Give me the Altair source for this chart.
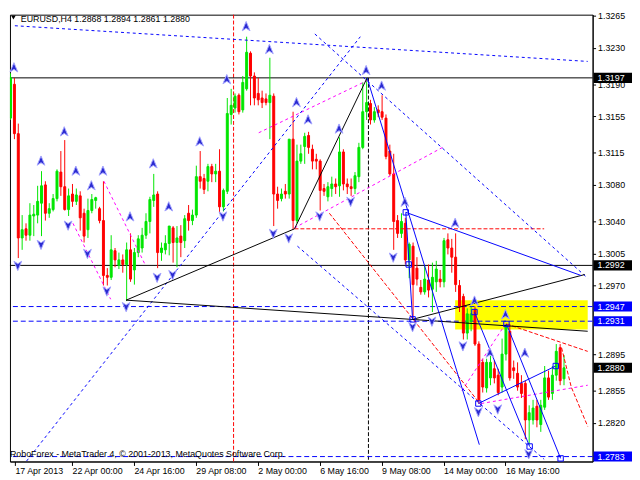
import altair as alt
import pandas as pd

FONT = "Liberation Sans"
GREEN = "#00e600"
RED = "#ff0000"
BLUE = "#0000ff"
MAGENTA = "#ff00ff"

# ---------------- EURUSD H4 candles (bar index 0..143) ----------------
opens = [1.3153, 1.3190, 1.3136, 1.3022, 1.3032, 1.3025, 1.3046, 1.3047, 1.3060, 1.3080,
         1.3049, 1.3053, 1.3065, 1.3094, 1.3078, 1.3053, 1.3070, 1.3062, 1.3068, 1.3049,
         1.3031, 1.3052, 1.3063, 1.3054, 1.3041, 1.2981, 1.2979, 1.3008, 1.2992, 1.2998,
         1.2993, 1.3009, 1.2987, 1.3006, 1.3011, 1.3025, 1.3040, 1.3063, 1.3070, 1.3006,
         1.3009, 1.3016, 1.3033, 1.3017, 1.3024, 1.3019, 1.3049, 1.3041, 1.3047, 1.3089,
         1.3087, 1.3084, 1.3100, 1.3092, 1.3095, 1.3056, 1.3073, 1.3157, 1.3164, 1.3178,
         1.3162, 1.3185, 1.3224, 1.3199, 1.3180, 1.3175, 1.3174, 1.3170, 1.3177, 1.3070,
         1.3065, 1.3073, 1.3070, 1.3130, 1.3041, 1.3106, 1.3122, 1.3134, 1.3119, 1.3108,
         1.3106, 1.3076, 1.3067, 1.3076, 1.3081, 1.3079, 1.3116, 1.3081, 1.3078, 1.3076,
         1.3089, 1.3121, 1.3160, 1.3169, 1.3151, 1.3162, 1.3160, 1.3153, 1.3117, 1.3092,
         1.3041, 1.3027, 1.3038, 1.2998, 1.3013, 1.2989, 1.2968, 1.2963, 1.2976, 1.2966,
         1.2974, 1.2977, 1.2974, 1.3020, 1.3011, 1.3001, 1.2970, 1.2958, 1.2918, 1.2931,
         1.2944, 1.2906, 1.2886, 1.2858, 1.2869, 1.2879, 1.2872, 1.2859, 1.2895, 1.2920,
         1.2880, 1.2874, 1.2863, 1.2863, 1.2823, 1.2823, 1.2838, 1.2818, 1.2837, 1.2869,
         1.2852, 1.2872, 1.2902, 1.2868]
highs = [1.3202, 1.3197, 1.3147, 1.3047, 1.3038, 1.3060, 1.3058, 1.3079, 1.3095, 1.3084,
         1.3060, 1.3070, 1.3097, 1.3117, 1.3129, 1.3076, 1.3081, 1.3076, 1.3073, 1.3054,
         1.3065, 1.3070, 1.3067, 1.3056, 1.3084, 1.2989, 1.3025, 1.3011, 1.3006, 1.3004,
         1.3017, 1.3027, 1.3011, 1.3025, 1.3033, 1.3049, 1.3067, 1.3092, 1.3073, 1.3017,
         1.3025, 1.3035, 1.3035, 1.3035, 1.3036, 1.3047, 1.3058, 1.3053, 1.3101, 1.3117,
         1.3092, 1.3103, 1.3103, 1.3103, 1.3119, 1.3076, 1.3175, 1.3185, 1.3180, 1.3180,
         1.3199, 1.3242, 1.3226, 1.3203, 1.3197, 1.3183, 1.3180, 1.3219, 1.3180, 1.3078,
         1.3076, 1.3081, 1.3130, 1.3160, 1.3124, 1.3124, 1.3137, 1.3138, 1.3124, 1.3114,
         1.3108, 1.3081, 1.3083, 1.3089, 1.3087, 1.3132, 1.3119, 1.3087, 1.3087, 1.3094,
         1.3126, 1.3192, 1.3197, 1.3173, 1.3165, 1.3167, 1.3178, 1.3157, 1.3124, 1.3114,
         1.3047, 1.3049, 1.3044, 1.3017, 1.3017, 1.3001, 1.2976, 1.2992, 1.2993, 1.2995,
         1.2997, 1.2987, 1.3022, 1.3027, 1.3021, 1.3027, 1.2976, 1.2961, 1.2945, 1.2947,
         1.2947, 1.2909, 1.2890, 1.2890, 1.2893, 1.2888, 1.2879, 1.2912, 1.2928, 1.2928,
         1.2888, 1.2886, 1.2872, 1.2866, 1.2839, 1.2845, 1.2845, 1.2845, 1.2882, 1.2877,
         1.2882, 1.2906, 1.2906, 1.2894]
lows = [1.3151, 1.3130, 1.3000, 1.3009, 1.3019, 1.3019, 1.3024, 1.3038, 1.3024, 1.3041,
        1.3044, 1.3051, 1.3062, 1.3068, 1.3052, 1.3046, 1.3056, 1.3058, 1.3030, 1.3017,
        1.3022, 1.3049, 1.3054, 1.3038, 1.2970, 1.2970, 1.2976, 1.2990, 1.2988, 1.2984,
        1.2953, 1.2974, 1.2971, 1.3001, 1.3006, 1.3021, 1.3027, 1.3056, 1.2989, 1.2997,
        1.3004, 1.3003, 1.2995, 1.2990, 1.3001, 1.3011, 1.3030, 1.3036, 1.3044, 1.3076,
        1.3070, 1.3073, 1.3083, 1.3083, 1.3049, 1.3051, 1.3070, 1.3146, 1.3159, 1.3157,
        1.3159, 1.3183, 1.3167, 1.3167, 1.3167, 1.3164, 1.3167, 1.3130, 1.3035, 1.3054,
        1.3062, 1.3065, 1.3065, 1.3031, 1.3038, 1.3103, 1.3103, 1.3114, 1.3097, 1.3097,
        1.3052, 1.3068, 1.3062, 1.3067, 1.3070, 1.3067, 1.3074, 1.3070, 1.3068, 1.3070,
        1.3083, 1.3119, 1.3151, 1.3146, 1.3148, 1.3154, 1.3151, 1.3108, 1.3090, 1.3009,
        1.3022, 1.3022, 1.2993, 1.2978, 1.2934, 1.2970, 1.2960, 1.2960, 1.2957, 1.2941,
        1.2963, 1.2968, 1.2968, 1.3004, 1.2984, 1.2963, 1.2941, 1.2911, 1.2911, 1.2920,
        1.2904, 1.2841, 1.2853, 1.2853, 1.2861, 1.2863, 1.2850, 1.2853, 1.2888, 1.2866,
        1.2868, 1.2855, 1.2847, 1.2802, 1.2796, 1.2818, 1.2815, 1.2810, 1.2834, 1.2845,
        1.2845, 1.2866, 1.2861, 1.2861]
closes = [1.3197, 1.3136, 1.3022, 1.3031, 1.3025, 1.3047, 1.3048, 1.3062, 1.3079, 1.3049,
          1.3054, 1.3065, 1.3095, 1.3078, 1.3053, 1.3068, 1.3062, 1.3069, 1.3044, 1.3024,
          1.3052, 1.3064, 1.3066, 1.3041, 1.2981, 1.2979, 1.3009, 1.2998, 1.2998, 1.2993,
          1.3009, 1.2977, 1.3006, 1.3021, 1.3025, 1.3040, 1.3064, 1.3069, 1.3006, 1.3011,
          1.3016, 1.3035, 1.3017, 1.3022, 1.3017, 1.3043, 1.3041, 1.3047, 1.3089, 1.3084,
          1.3075, 1.3100, 1.3092, 1.3095, 1.3056, 1.3074, 1.3158, 1.3167, 1.3177, 1.3160,
          1.3192, 1.3225, 1.3199, 1.3175, 1.3173, 1.3170, 1.3170, 1.3178, 1.3070, 1.3063,
          1.3070, 1.3070, 1.3130, 1.3041, 1.3106, 1.3114, 1.3133, 1.3121, 1.3106, 1.3106,
          1.3074, 1.3073, 1.3078, 1.3081, 1.3078, 1.3116, 1.3081, 1.3078, 1.3076, 1.3090,
          1.3121, 1.3160, 1.3170, 1.3151, 1.3160, 1.3159, 1.3154, 1.3111, 1.3092, 1.3040,
          1.3027, 1.3040, 1.2998, 1.3015, 1.2971, 1.2977, 1.2963, 1.2977, 1.2965, 1.2979,
          1.2988, 1.2974, 1.3019, 1.3011, 1.3001, 1.2971, 1.2947, 1.2918, 1.2939, 1.2939,
          1.2906, 1.2845, 1.2859, 1.2886, 1.2886, 1.2869, 1.2853, 1.2895, 1.2927, 1.2869,
          1.2877, 1.2859, 1.2852, 1.2823, 1.2831, 1.2836, 1.2823, 1.2839, 1.2869, 1.2848,
          1.2872, 1.2898, 1.2866, 1.2880]

# time axis labels (bar index -> label)
x_tick_pos = [1.25, 16, 32, 48, 64, 80, 96, 112, 128]
x_tick_lab = ["17 Apr 2013", "22 Apr 00:00", "24 Apr 16:00", "29 Apr 08:00", "2 May 00:00",
              "6 May 16:00", "9 May 08:00", "14 May 00:00", "16 May 16:00"]
y_ticks = [1.3265, 1.3230, 1.3190, 1.3155, 1.3115, 1.3080, 1.3040, 1.3005, 1.2970,
           1.2895, 1.2855, 1.2820]

# horizontal levels
solid_levels = [1.3197, 1.2992]
dashed_levels = [1.2947, 1.2931, 1.2783]
box_prices = [1.3197, 1.2992, 1.2947, 1.2931, 1.2880, 1.2783]
box_colors = ["black", "black", BLUE, BLUE, "black", BLUE]

# yellow zone
zone_i = [115.0, 149.25]
zone_p = [1.2954, 1.2922]

# vertical lines (bar index)
red_vline_i = [57.75]
black_vline_i = [92.6]
black_vline_top = [1.3197]

# trend lines: lists of (bar index, price)
black_solid_segs = [
    [(30, 1.2954), (149.25, 1.2920)],
    [(30, 1.2954), (73.5, 1.3032), (92.25, 1.3197)],
    [(104, 1.2933), (148.5, 1.2982)],
]
blue_solid_segs = [
    [(92.25, 1.3197), (121.25, 1.2796)],
    [(102.25, 1.3050), (147.5, 1.2981)],
    [(102.25, 1.3050), (104, 1.2933)],
    [(120, 1.2941), (134.25, 1.2794)],
    [(128.25, 1.2928), (142.25, 1.2781)],
    [(121, 1.2841), (141, 1.2882)],
]
blue_dash_segs = [
    [(1.25, 1.3254), (149.25, 1.3215)],
    [(78.75, 1.3245), (149.25, 1.2978)],
    [(4.25, 1.2778), (90.5, 1.3242)],
    [(74.25, 1.3013), (138, 1.2780)],
]
magenta_segs = [
    [(16.25, 1.3038), (26, 1.2955)],
    [(24.25, 1.3084), (35, 1.2992)],
    [(64.25, 1.3137), (92.25, 1.3194)],
    [(73.5, 1.3033), (111.75, 1.3121)],
    [(116.75, 1.2855), (128, 1.2928)],
    [(121.75, 1.2841), (149.25, 1.2861)],
]
red_dash_segs = [
    [(73.5, 1.3032), (138, 1.3032)],
    [(82.5, 1.3049), (121.75, 1.2839)],
    [(128.25, 1.2928), (149.25, 1.2898)],
    [(142.5, 1.2902), (145, 1.2859), (149.25, 1.2816)],
]

# small square anchors
sq_i = [102.25, 103, 104, 120, 128.25, 121, 141, 134.25, 142.25]
sq_p = [1.3050, 1.2993, 1.2933, 1.2941, 1.2928, 1.2841, 1.2882, 1.2794, 1.2781]

# fractal arrows
up_i = [1, 8, 14, 17, 21, 24, 31, 37, 41, 49, 56, 61, 67, 74, 77, 85, 92, 96, 102, 115,
        120, 128, 124, 133]
up_p = [1.3208, 1.3106, 1.3138, 1.3095, 1.3079, 1.3095, 1.3045, 1.3103, 1.3056, 1.3127,
        1.3195, 1.3253, 1.3228, 1.3170, 1.3151, 1.3141, 1.3205, 1.3188, 1.3061, 1.3038,
        1.2953, 1.2938, 1.2896, 1.2896]
dn_i = [2, 8, 15, 20, 25, 30, 38, 42, 55, 68, 72, 80, 88, 99, 104, 109, 117, 121, 126, 134]
dn_p = [1.2992, 1.3015, 1.3036, 1.3005, 1.2964, 1.2947, 1.2979, 1.2982, 1.3046, 1.3027,
        1.3022, 1.3046, 1.3062, 1.3001, 1.2925, 1.2931, 1.2904, 1.2832, 1.2835, 1.2786]

title_text = "EURUSD,H4  1.2868 1.2894 1.2861 1.2880"
copyright_text = "RoboForex - MetaTrader 4, \u00a9 2001-2013, MetaQuotes Software Corp."

# ---------------- build chart ----------------
xs = alt.Scale(domain=[1.25, 149.25], nice=False, zero=False)
ys = alt.Scale(domain=[1.27776, 1.32661], nice=False, zero=False)

cdf = pd.DataFrame({"i": list(range(len(opens))), "o": opens, "h": highs, "l": lows, "c": closes})
up_cond = alt.condition("datum.c >= datum.o", alt.value(GREEN), alt.value(RED))

lab_expr = "'17 Apr 2013'"
for pos, lab in zip(x_tick_pos[1:][::-1], x_tick_lab[1:][::-1]):
    lab_expr = f"datum.value == {pos} ? '{lab}' : ({lab_expr})"

x_axis = alt.Axis(orient="bottom", values=x_tick_pos, labelExpr=lab_expr, title=None, grid=False,
                  tickSize=4, labelAlign="left", labelBaseline="top", labelPadding=1,
                  labelFont=FONT, labelFontSize=9, labelColor="black", domainColor="black",
                  tickColor="black", labelFlush=False, labelOverlap=False)
y_axis = alt.Axis(orient="right", values=y_ticks, format=".4f", title=None, grid=False,
                  tickSize=3, labelPadding=2, labelFont=FONT, labelFontSize=9,
                  labelColor="black", domainColor="black", tickColor="black",
                  labelFlush=False, labelOverlap=False)

def X(f="i"):
    return alt.X(f"{f}:Q", scale=xs, axis=x_axis)

def Y(f="p"):
    return alt.Y(f"{f}:Q", scale=ys, axis=y_axis)

def seg_df(segs):
    rows = []
    for s, pts in enumerate(segs):
        for k, (xv, pv) in enumerate(pts):
            rows.append({"s": s, "k": k, "i": xv, "p": pv})
    return pd.DataFrame(rows)

def seg_layer(segs, color, dash=None):
    kw = dict(color=color, strokeWidth=1, clip=True)
    if dash:
        kw["strokeDash"] = dash
    return alt.Chart(seg_df(segs)).mark_line(**kw).encode(
        x=X(), y=Y(), detail="s:N", order="k:Q")

zone = alt.Chart(pd.DataFrame({"i0": [zone_i[0]], "i1": [zone_i[1]], "p0": [zone_p[0]], "p1": [zone_p[1]]})
                 ).mark_rect(color="#ffff00", clip=True).encode(x=X("i0"), x2="i1:Q", y=Y("p0"), y2="p1:Q")

red_v = alt.Chart(pd.DataFrame({"i": red_vline_i})).mark_rule(
    color=RED, strokeDash=[4, 2], strokeWidth=1).encode(x=X())
black_v = alt.Chart(pd.DataFrame({"i": black_vline_i, "p": black_vline_top})).mark_rule(
    color="black", strokeDash=[4, 2], strokeWidth=1).encode(x=X(), y=Y(), y2=alt.value(454))

h_solid = alt.Chart(pd.DataFrame({"p": solid_levels})).mark_rule(color="black", strokeWidth=1).encode(y=Y())
h_dash = alt.Chart(pd.DataFrame({"p": dashed_levels})).mark_rule(
    color=BLUE, strokeWidth=1, strokeDash=[5, 3]).encode(y=Y())

wicks = alt.Chart(cdf).mark_rule(strokeWidth=1, xOffset=0.5, clip=True).encode(
    x=X(), y=Y("l"), y2="h:Q", color=up_cond)
bodies = alt.Chart(cdf).mark_bar(size=2, strokeWidth=1, xOffset=0.5, clip=True).encode(
    x=X(), y=Y("o"), y2="c:Q", fill=up_cond, stroke=up_cond)

lines = [
    seg_layer(magenta_segs, MAGENTA, [3, 3]),
    seg_layer(red_dash_segs, RED, [4, 2]),
    seg_layer(blue_dash_segs, BLUE, [3, 3]),
    seg_layer(black_solid_segs, "black"),
    seg_layer(blue_solid_segs, BLUE),
]

squares = alt.Chart(pd.DataFrame({"i": sq_i, "p": sq_p})).mark_point(
    shape="square", filled=False, size=30, color=BLUE, strokeWidth=1, opacity=1).encode(x=X(), y=Y())

UP = "M0,-1L0.75,0.8L0,0.3L-0.75,0.8Z"
DN = "M0,1L0.75,-0.8L0,-0.3L-0.75,-0.8Z"
up_arrows = alt.Chart(pd.DataFrame({"i": up_i, "p": up_p})).mark_point(
    shape=UP, filled=True, size=110, fill="#2a2ad0", stroke="#a4a4ff", strokeWidth=1,
    opacity=1, fillOpacity=1).encode(x=X(), y=Y())
dn_arrows = alt.Chart(pd.DataFrame({"i": dn_i, "p": dn_p})).mark_point(
    shape=DN, filled=True, size=110, fill="#2a2ad0", stroke="#a4a4ff", strokeWidth=1,
    opacity=1, fillOpacity=1).encode(x=X(), y=Y())

title_tri = alt.Chart(pd.DataFrame({"a": [0]})).mark_point(
    shape="triangle-down", filled=True, size=22, color="black", opacity=1).encode(
    x=alt.value(3.5), y=alt.value(3))
title = alt.Chart(pd.DataFrame({"t": [title_text]})).mark_text(
    align="left", baseline="top", font=FONT, fontSize=9, color="black").encode(
    x=alt.value(11), y=alt.value(0), text="t:N")
copyright = alt.Chart(pd.DataFrame({"t": [copyright_text]})).mark_text(
    align="left", baseline="alphabetic", font=FONT, fontSize=9, color="black").encode(
    x=alt.value(0), y=alt.value(449), text="t:N")

bdf = pd.DataFrame({"p": box_prices, "col": box_colors, "t": [f"{v:.4f}" for v in box_prices]})
boxes = alt.Chart(bdf).transform_calculate(
    hi="datum.p + 0.00055", lo="datum.p - 0.00055").mark_rect().encode(
    x=alt.value(593), x2=alt.value(632), y=Y("hi"), y2="lo:Q", fill=alt.Fill("col:N", scale=None))
box_text = alt.Chart(bdf).mark_text(
    align="left", baseline="middle", font=FONT, fontSize=9, color="white").encode(
    x=alt.value(597), y=Y("p"), text="t:N")

chart = alt.layer(
    zone, red_v, black_v, h_solid, h_dash, wicks, bodies, *lines,
    squares, up_arrows, dn_arrows, title_tri, title, copyright, boxes, box_text
).properties(width=592, height=454, padding=0, background="white").configure_view(
    stroke="black", strokeWidth=1)

chart.save("out.html", embed_options={"renderer": "svg", "actions": False})
